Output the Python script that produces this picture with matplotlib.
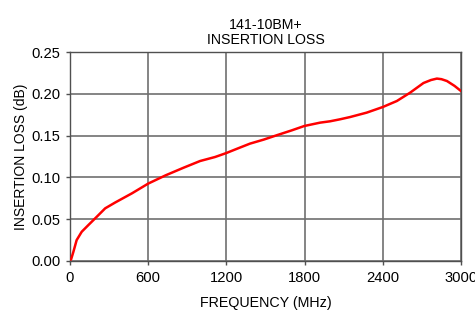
import matplotlib.pyplot as plt

plt.rcParams['font.family'] = ['Liberation Sans', 'DejaVu Sans']

# curve (MHz, dB)
freq = [8, 26, 51, 90, 141, 193, 270, 347, 476, 600, 734, 870, 998, 1113,
        1197, 1290, 1381, 1486, 1586, 1700, 1798, 1919, 1995, 2072, 2149,
        2277, 2400, 2508, 2610, 2712, 2770, 2815, 2850, 2892, 2950, 3000]
loss = [0.0017, 0.011, 0.025, 0.035, 0.043, 0.051, 0.063, 0.070, 0.081,
        0.0926, 0.1025, 0.1115, 0.1196, 0.1244, 0.129, 0.1348, 0.1404,
        0.1452, 0.1504, 0.1562, 0.1615, 0.1655, 0.1671, 0.1695, 0.1722,
        0.1775, 0.1842, 0.1914, 0.2014, 0.2129, 0.2165, 0.2182, 0.2175,
        0.2153, 0.2095, 0.2033]

xticks = [0, 600, 1200, 1800, 2400, 3000]
yticks = [0.00, 0.05, 0.10, 0.15, 0.20, 0.25]

fig = plt.figure(figsize=(4.75, 3.12), dpi=100)
ax = fig.add_axes([70/475, 1 - 261/312, 391/475, 209/312])

ax.plot(freq, loss, color='#ff0000', lw=1.8, solid_capstyle='round',
        solid_joinstyle='round', zorder=3)

ax.set_xlim(0, 3000)
ax.set_ylim(0, 0.25)
ax.set_xticks(xticks)
ax.set_yticks(yticks)
ax.set_yticklabels(['%.2f' % v for v in yticks])
ax.grid(True, color='#707070', lw=1.2)
for s in ax.spines.values():
    s.set_color('#505050')
    s.set_linewidth(1.0)
ax.tick_params(labelsize=10.6, length=3, width=1, color='#505050', pad=4)

ax.set_xlabel('FREQUENCY (MHz)', fontsize=10.3, labelpad=8)
ax.set_ylabel('INSERTION LOSS (dB)', fontsize=10, labelpad=2)
ax.set_title('141-10BM+\nINSERTION LOSS', fontsize=10.2, pad=6, linespacing=1.05)

fig.savefig('out.png', dpi=100)
